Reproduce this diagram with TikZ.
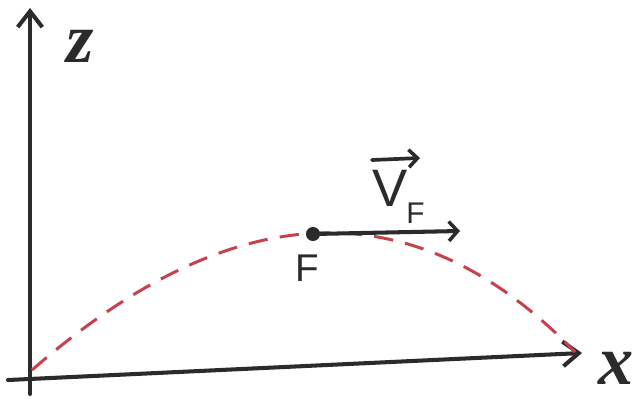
\documentclass[tikz,border=0pt]{standalone}
\usepackage{fontspec}
\setmainfont{Liberation Sans}
\newfontfamily\handfont{Liberation Serif}
\usetikzlibrary{arrows.meta}
\definecolor{ink}{HTML}{2B2B2B}
\definecolor{redink}{HTML}{C8404C}
\begin{document}
\begin{tikzpicture}[x=0.02cm,y=-0.02cm,
  axis/.style={draw=ink,line width=2.3pt,line cap=round,-{Straight Barb[length=9pt,width=14pt,line width=2.3pt]}},
  traj/.style={draw=redink,line width=1.7pt,dash pattern=on 11pt off 7pt},
  lbl/.style={text=ink,inner sep=0pt},
  axlbl/.style={text=ink,inner sep=0pt,font=\handfont\bfseries\itshape\fontsize{40}{40}\selectfont}]
\useasboundingbox (0,0) rectangle (644,399);
\fill[white] (0,0) rectangle (644,399);
% axes
\coordinate (zb) at (30,394);
\coordinate (zt) at (30,8);
\coordinate (xb) at (8,380);
\coordinate (xt) at (582,353);
\draw[axis] (zb) -- (zt);
\draw[axis] (xb) -- (xt);
\node[axlbl] (zl) at (80,46) {z};
\node[axlbl] (xl) at (616,368) {x};
% trajectory
\coordinate (p0) at (32,370);
\coordinate (p2) at (575,352);
\draw[traj] (p0) .. controls (234.7,193.3) and (415.7,187.3) .. (p2);
% point F and velocity
\node[circle,fill=ink,inner sep=0pt,minimum size=8pt] (F) at (313,234) {};
\coordinate (vend) at (460,231);
\draw[draw=ink,line width=2.3pt,line cap=round,-{Straight Barb[length=5pt,width=11pt,line width=2pt]}] (F) -- (vend);
\node[lbl,font=\fontsize{22}{22}\selectfont] (Fl) at (307,268) {F};
\node[lbl,font=\fontsize{30}{30}\selectfont] (V) at (390,188) {V};
\node[lbl,font=\fontsize{17}{17}\selectfont,anchor=north west] (Vs) at (406,203) {F};
\coordinate (va) at (372,160);
\coordinate (vb) at (420,158);
\draw[draw=ink,line width=2.1pt,line cap=round,-{Straight Barb[length=5pt,width=10pt,line width=2pt]}] (va) -- (vb);
\end{tikzpicture}
\end{document}
